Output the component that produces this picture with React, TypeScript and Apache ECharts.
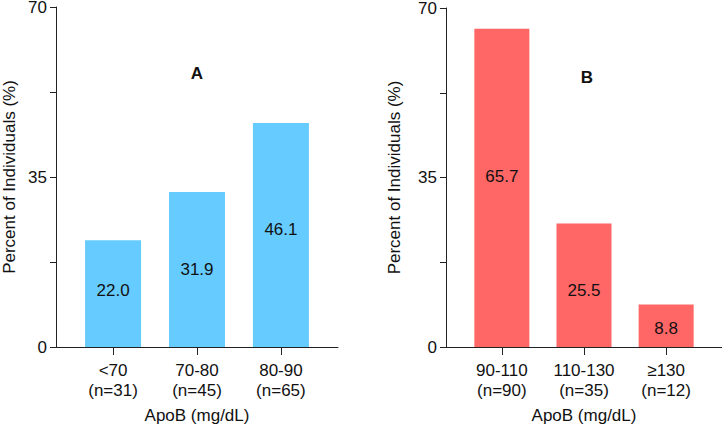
import React, { useEffect, useRef } from "react";
import * as echarts from "echarts";

const catsA = ["<70\n(n=31)", "70-80\n(n=45)", "80-90\n(n=65)"];
const valsA = [22.0, 31.9, 46.1];
const catsB = ["90-110\n(n=90)", "110-130\n(n=35)", "\u2265130\n(n=12)"];
const valsB = [65.7, 25.5, 8.8];
const yTicks = [0, 35, 70];

// label vertical nudges (styling only)
const shiftA = [-3, 0, -6];
const shiftB = [-11, 5, 3];

const FONT = 'Arial, "Liberation Sans", Helvetica, sans-serif';
const TXT = "#111";
const AX = "#222";

function xAx(grid: number, cats: string[]) {
  const idx = cats.map((_, i) => i);
  return {
    type: "value",
    gridIndex: grid,
    min: -0.68,
    max: cats.length - 1 + 0.68,
    axisLine: { show: true, onZero: false, lineStyle: { color: AX, width: 1 } },
    axisTick: { show: true, customValues: idx, length: 8, lineStyle: { color: AX, width: 1 } },
    axisLabel: {
      customValues: idx,
      formatter: (v: number) => cats[Math.round(v)] ?? "",
      margin: 13,
      fontSize: 17,
      lineHeight: 20,
      color: TXT,
      fontFamily: FONT,
    },
    splitLine: { show: false },
    name: "ApoB (mg/dL)",
    nameLocation: "middle",
    nameGap: 60,
    nameTextStyle: { fontSize: 17, lineHeight: 16, color: TXT, fontFamily: FONT },
  };
}

function yAx(grid: number, gap: number) {
  return {
    type: "value",
    gridIndex: grid,
    min: 0,
    max: 70,
    interval: 17.5,
    axisLine: { show: true, onZero: false, lineStyle: { color: AX, width: 1 } },
    axisTick: { show: true, length: 6, lineStyle: { color: AX, width: 1 } },
    axisLabel: {
      formatter: (v: number) => (yTicks.includes(v) ? String(v) : ""),
      margin: 9,
      fontSize: 17,
      lineHeight: 13,
      color: TXT,
      fontFamily: FONT,
    },
    splitLine: { show: false },
    name: "Percent of Individuals (%)",
    nameLocation: "middle",
    nameGap: gap,
    nameRotate: 90,
    nameTextStyle: { fontSize: 17, lineHeight: 14, color: TXT, fontFamily: FONT },
  };
}

function barSeries(idx: number, vals: number[], shifts: number[], color: string, width: number) {
  return {
    type: "bar",
    xAxisIndex: idx,
    yAxisIndex: idx,
    barWidth: width,
    itemStyle: { color },
    data: vals.map((v, i) => ({
      value: [i, v],
      label: { offset: [0, shifts[i]] },
    })),
    label: {
      show: true,
      position: "inside",
      fontSize: 17,
      color: TXT,
      fontFamily: FONT,
      formatter: (p: any) => Number(p.value[1]).toFixed(1),
    },
  };
}

export default function App() {
  const ref = useRef<HTMLDivElement>(null);
  useEffect(() => {
    if (!ref.current) return;
    const chart = echarts.init(ref.current, undefined, { renderer: "svg" });
    chart.setOption({
      animation: false,
      backgroundColor: "#fff",
      textStyle: { fontFamily: FONT },
      grid: [
        { left: 56, right: 384, top: 7, bottom: 77, outerBoundsMode: "none", containLabel: false },
        { left: 446, right: 0, top: 8, bottom: 77, outerBoundsMode: "none", containLabel: false },
      ],
      xAxis: [xAx(0, catsA), xAx(1, catsB)],
      yAxis: [yAx(0, 40), yAx(1, 45)],
      series: [
        barSeries(0, valsA, shiftA, "#66CCFF", 56),
        barSeries(1, valsB, shiftB, "#FF6666", 55),
      ],
      graphic: [
        {
          type: "text",
          x: 197,
          y: 73,
          style: { text: "A", fontSize: 17, fontWeight: "bold", fontFamily: FONT, fill: TXT, align: "center", verticalAlign: "middle" },
        },
        {
          type: "text",
          x: 587,
          y: 77,
          style: { text: "B", fontSize: 17, fontWeight: "bold", fontFamily: FONT, fill: TXT, align: "center", verticalAlign: "middle" },
        },
      ],
    });
    return () => chart.dispose();
  }, []);
  return (
    <div
      ref={ref}
      style={{ position: "fixed", left: 0, top: 0, width: 722, height: 424, background: "#fff" }}
    />
  );
}
